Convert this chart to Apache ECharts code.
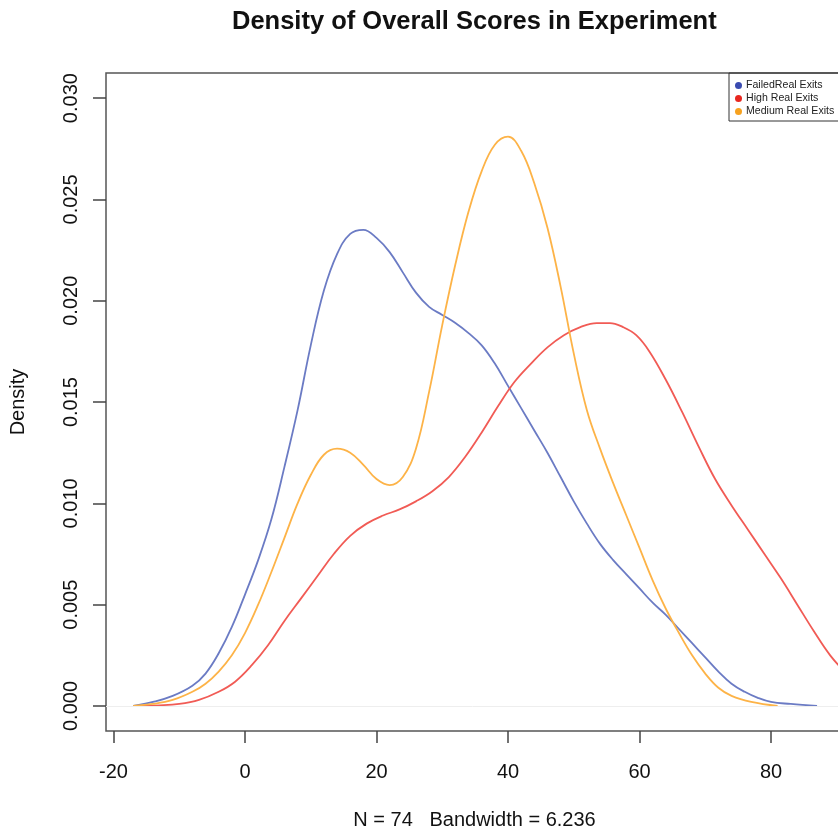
<!DOCTYPE html>
<html><head><meta charset="utf-8">
<script src="https://cdn.jsdelivr.net/npm/echarts@6/dist/echarts.min.js"></script>
<style>html,body{margin:0;padding:0;background:#fff}#c{width:838px;height:831px}</style>
</head><body><div id="c"></div>
<script>
const seriesNames = ['FailedReal Exits', 'High Real Exits', 'Medium Real Exits'];
const xTicks = [-20, 0, 20, 40, 60, 80];
const yTicks = [0, 0.005, 0.010, 0.015, 0.020, 0.025, 0.030];

const failedX = [-17, -14, -11, -8, -6, -4, -2, 0, 2, 4, 6, 8, 10, 12, 14, 16, 18, 20, 22, 24, 26, 28, 30, 32, 34, 36, 38, 40, 42, 44, 46, 48, 50, 52, 54, 56, 58, 60, 62, 64, 66, 68, 70, 72, 74, 76, 78, 80, 83, 87];
const failedY = [0, 0.0002, 0.0005, 0.0010, 0.0016, 0.0026, 0.0039, 0.0055, 0.0072, 0.0092, 0.0118, 0.0146, 0.0178, 0.0205, 0.0223, 0.0233, 0.0235, 0.0231, 0.0224, 0.0214, 0.0204, 0.0197, 0.0193, 0.0189, 0.0184, 0.0178, 0.0169, 0.0158, 0.0147, 0.0136, 0.0125, 0.0113, 0.0101, 0.0090, 0.0080, 0.0072, 0.0065, 0.0058, 0.0051, 0.0045, 0.0038, 0.0031, 0.0024, 0.0017, 0.0011, 0.0007, 0.0004, 0.0002, 0.0001, 0];

const highX = [-16.7, -13, -10, -7, -4, -1.5, 1, 3.5, 6, 8.5, 11, 13.5, 16, 18.5, 21, 23.5, 26, 28.5, 31, 33.5, 36, 38.5, 41, 43.5, 46, 48.5, 51, 53.5, 55.5, 57.5, 59.5, 61.5, 64, 66.5, 69, 71.5, 74, 76.5, 79, 81.5, 84, 86.5, 89, 91.5, 94];
const highY = [0, 0.00003, 0.0001, 0.0003, 0.0007, 0.0012, 0.0020, 0.0030, 0.0042, 0.0053, 0.0064, 0.0075, 0.0084, 0.0090, 0.0094, 0.0097, 0.0101, 0.0106, 0.0113, 0.0123, 0.0135, 0.0148, 0.0160, 0.0169, 0.0177, 0.0183, 0.0187, 0.0189, 0.0189, 0.0187, 0.0183, 0.0175, 0.0161, 0.0145, 0.0128, 0.0112, 0.0099, 0.0087, 0.0075, 0.0063, 0.0050, 0.0037, 0.0025, 0.0016, 0.0009];

const mediumX = [-17, -14, -11, -8, -6, -4, -2, 0, 2, 4, 6, 8, 10, 12, 14, 16, 18, 20, 22, 24, 26, 28, 30, 32, 34, 36, 38, 40, 42, 44, 46, 48, 50, 52, 54, 56, 58, 60, 62, 64, 66, 68, 70, 72, 74, 77, 81];
const mediumY = [0, 0.0001, 0.0003, 0.0007, 0.0011, 0.0017, 0.0025, 0.0036, 0.0050, 0.0066, 0.0083, 0.0100, 0.0114, 0.0124, 0.0127, 0.0125, 0.0119, 0.0112, 0.0109, 0.0113, 0.0127, 0.0155, 0.0188, 0.0218, 0.0244, 0.0264, 0.0277, 0.0281, 0.0274, 0.0258, 0.0236, 0.0207, 0.0174, 0.0146, 0.0127, 0.0110, 0.0094, 0.0078, 0.0062, 0.0048, 0.0036, 0.0025, 0.0016, 0.0009, 0.0005, 0.0002, 0];

const lineColors = ['#6b7bc4', '#f15b55', '#fdb347'];
const legendColors = ['#3a4bb0', '#e8271f', '#f7a21f'];

function pairs(xs, ys) { return xs.map((x, i) => [x, ys[i]]); }
const FONT = 'Liberation Sans, Arial, sans-serif';

const chart = echarts.init(document.getElementById('c'), null, {renderer: 'canvas'});
const dataSets = [pairs(failedX, failedY), pairs(highX, highY), pairs(mediumX, mediumY)];

chart.setOption({
  animation: false,
  backgroundColor: '#fff',
  title: {
    text: 'Density of Overall Scores in Experiment',
    left: 232, top: 9, padding: 0,
    textStyle: {fontFamily: FONT, fontSize: 25.5, fontWeight: 'bold', color: '#111'}
  },
  grid: {left: 106, top: 73, right: -5, bottom: 100, outerBoundsMode: 'none', containLabel: false,
    show: true, borderColor: '#555', borderWidth: 1.5, backgroundColor: 'transparent'},
  legend: {
    orient: 'vertical', left: 729, top: 73, icon: 'circle',
    itemWidth: 7, itemHeight: 7, itemGap: 0,
    padding: [6, 5, 3, 6],
    borderColor: '#333', borderWidth: 1,
    textStyle: {fontFamily: FONT, fontSize: 10.6, color: '#222', lineHeight: 13, padding: [0, 0, 0, -1]},
    data: seriesNames.map((n, i) => ({name: n, itemStyle: {color: legendColors[i]}}))
  },
  xAxis: {
    type: 'value', min: -21.14, max: 90.95,
    name: 'N = 74   Bandwidth = 6.236', nameLocation: 'middle', nameGap: 79,
    nameTextStyle: {fontFamily: FONT, fontSize: 20, color: '#111'},
    axisLine: {show: false, onZero: false},
    axisTick: {show: true, inside: false, length: 12, customValues: xTicks, lineStyle: {color: '#444', width: 1.5}},
    axisLabel: {customValues: xTicks, margin: 31, fontFamily: FONT, fontSize: 20, color: '#111'},
    splitLine: {show: false}
  },
  yAxis: {
    type: 'value', min: -0.001234, max: 0.03124,
    name: 'Density', nameLocation: 'middle', nameGap: 78, nameRotate: 90,
    nameTextStyle: {fontFamily: FONT, fontSize: 20, color: '#111'},
    axisLine: {show: false, onZero: false},
    axisTick: {show: true, inside: false, length: 13, customValues: yTicks, lineStyle: {color: '#444', width: 1.5}},
    axisLabel: {customValues: yTicks, rotate: 90, margin: 25, fontFamily: FONT, fontSize: 20, color: '#111',
      formatter: v => v.toFixed(3)},
    splitLine: {show: false}
  },
  series: seriesNames.map((n, i) => ({
    name: n, type: 'line', data: dataSets[i], smooth: 0.4, showSymbol: false, symbol: 'none',
    lineStyle: {color: lineColors[i], width: 1.8}, itemStyle: {color: lineColors[i]},
    clip: true, z: 3,
    markLine: i === 0 ? {silent: true, symbol: 'none', label: {show: false},
      lineStyle: {color: '#eeeeee', width: 1, type: 'solid'}, data: [{yAxis: 0}]} : undefined
  }))
});
</script></body></html>
